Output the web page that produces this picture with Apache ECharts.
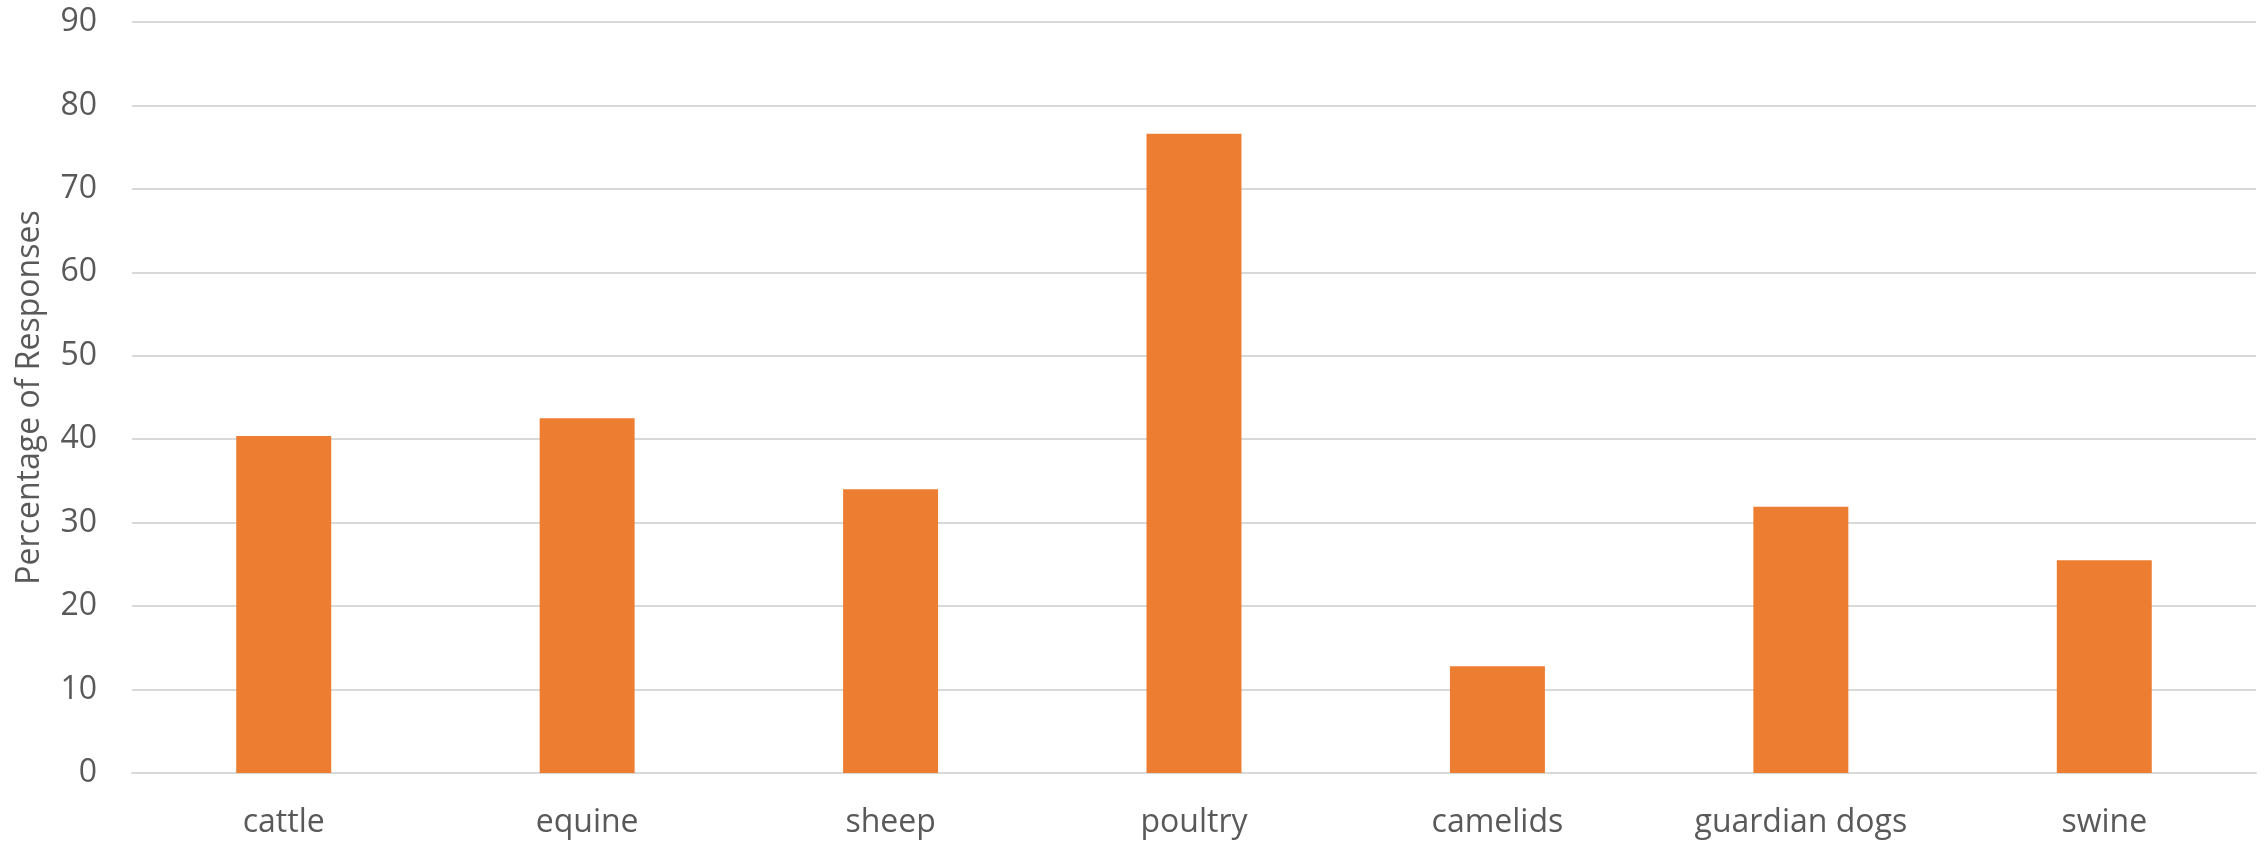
<!DOCTYPE html>
<html>
<head>
<meta charset="utf-8">
<script src="https://cdn.jsdelivr.net/npm/echarts@6/dist/echarts.min.js"></script>
<style>
  html, body { margin: 0; padding: 0; background: #ffffff; }
  #chart { width: 2267px; height: 842px; }
</style>
</head>
<body>
<div id="chart"></div>
<script>
// Livestock categories and share of responses (%)
const categories = ['cattle', 'equine', 'sheep', 'poultry', 'camelids', 'guardian dogs', 'swine'];
const percentages = [40.4, 42.5, 34.0, 76.6, 12.8, 31.9, 25.5];
const yTicks = { min: 0, max: 90, interval: 10 };
const yTitle = 'Percentage of Responses';

const textColor = '#595959';
const gridColor = '#D9D9D9';
const fontFamily = '"Open Sans", "Noto Sans", sans-serif';

const chart = echarts.init(document.getElementById('chart'));
chart.setOption({
  animation: false,
  grid: { left: 132, right: 11, top: 22, bottom: 69 },
  xAxis: {
    type: 'category',
    data: categories,
    axisLine: { show: true, lineStyle: { color: gridColor, width: 2 } },
    axisTick: { show: false },
    axisLabel: { color: textColor, fontSize: 32, fontFamily: fontFamily, margin: 34 }
  },
  yAxis: {
    type: 'value',
    min: yTicks.min,
    max: yTicks.max,
    interval: yTicks.interval,
    name: yTitle,
    nameLocation: 'middle',
    nameGap: 86,
    nameTextStyle: { color: textColor, fontSize: 32, fontFamily: fontFamily },
    axisLine: { show: false },
    axisTick: { show: false },
    axisLabel: { color: textColor, fontSize: 32, fontFamily: fontFamily, margin: 35 },
    splitLine: { lineStyle: { color: gridColor, width: 2 } }
  },
  series: [{
    type: 'bar',
    data: percentages,
    barWidth: '31.3%',
    itemStyle: { color: '#ED7D31' }
  }]
});
</script>
</body>
</html>
